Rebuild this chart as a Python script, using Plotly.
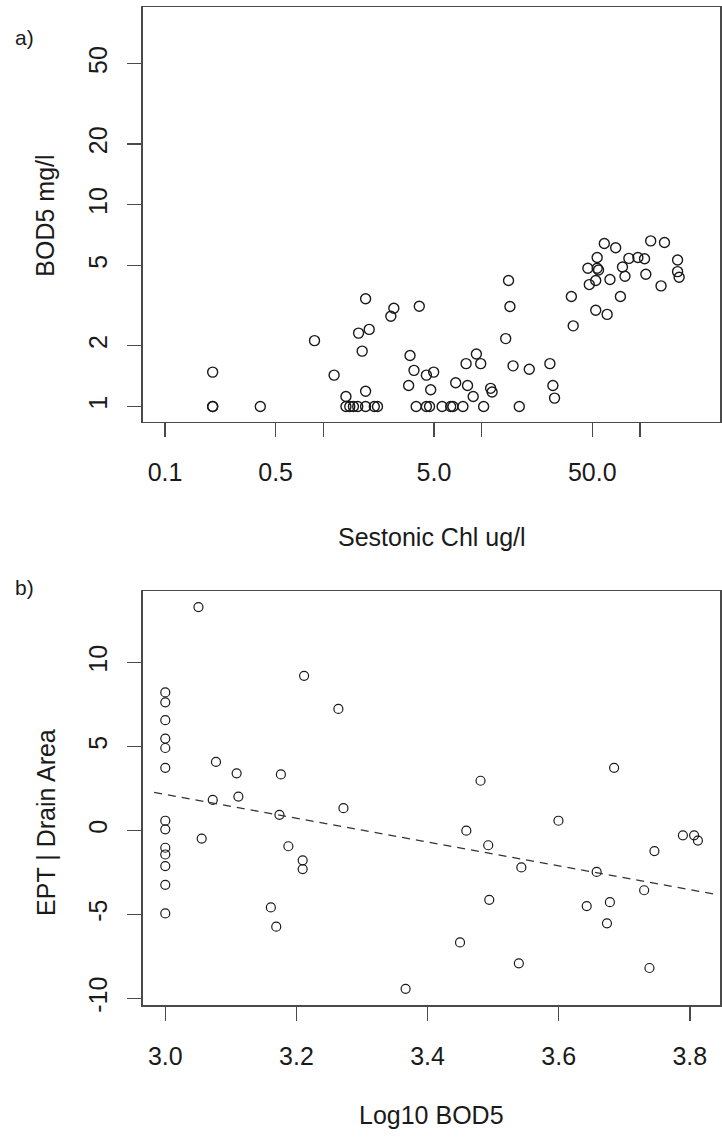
import plotly.graph_objects as go

# ---------------- Panel a data ----------------
chl = [0.20, 0.20, 0.20, 0.40, 0.88, 1.17, 1.39, 1.39, 1.47, 1.55, 1.65, 1.85, 2.10, 2.20,
       1.85, 1.67, 1.95, 1.76, 1.85, 2.67, 2.79, 4.04, 3.53, 3.74, 3.46, 4.48, 4.98, 4.77,
       3.86, 4.48, 4.69, 5.63, 6.38, 6.59, 7.62, 10.3, 17.3, 6.86, 7.98, 8.15, 9.27, 9.87,
       8.85, 11.4, 11.65, 14.8, 15.1, 14.2, 15.8, 20.0, 27.0, 28.2, 28.9, 36.9, 37.9, 46.9,
       47.9, 52.6, 53.7, 53.7, 54.8, 52.6, 59.6, 62.1, 64.7, 70.3, 75.3, 77.6, 80.5, 85.2,
       97.1, 107, 109, 117, 136, 143, 173, 173, 177]
bod5 = [1.48, 1.0, 1.0, 1.0, 2.12, 1.43, 1.12, 1.0, 1.0, 1.0, 1.0, 1.0, 1.0, 1.0,
        3.42, 2.31, 2.41, 1.88, 1.19, 2.80, 3.07, 3.14, 1.79, 1.51, 1.27, 1.43, 1.48, 1.21,
        1.0, 1.0, 1.0, 1.0, 1.0, 1.0, 1.0, 1.0, 1.0, 1.31, 1.63, 1.27, 1.82, 1.63,
        1.12, 1.23, 1.18, 4.21, 3.13, 2.17, 1.59, 1.53, 1.63, 1.27, 1.10, 3.51, 2.51, 4.84,
        4.02, 4.21, 5.48, 4.84, 4.75, 3.00, 6.43, 2.86, 4.26, 6.12, 3.51, 4.91, 4.42, 5.42,
        5.48, 5.40, 4.52, 6.62, 3.96, 6.50, 5.32, 4.66, 4.37]
a_xticks = [0.1, 0.5, 1, 5, 10, 50, 100]
a_xticklabels = ["0.1", "0.5", "", "5.0", "", "50.0", ""]
a_yticks = [1, 2, 5, 10, 20, 50]
a_yticklabels = ["1", "2", "5", "10", "20", "50"]

# ---------------- Panel b data ----------------
log_bod5 = [3.0] * 13 + [
    3.0506, 3.2117, 3.264, 3.0773, 3.1088, 3.1115, 3.0724, 3.0555, 3.1763, 3.1741,
    3.1877, 3.2095, 3.2095, 3.161, 3.1692, 3.2717, 3.3665, 3.4808, 3.4591, 3.4925,
    3.543, 3.4941, 3.4495, 3.5392, 3.5996, 3.6845, 3.6579, 3.6427, 3.6781, 3.6736,
    3.7303, 3.746, 3.7384, 3.7894, 3.8065, 3.8123]
ept_resid = [8.22, 7.63, 6.57, 5.47, 4.91, 3.73, 0.58, 0.07, -1.03, -1.43, -2.12, -3.24, -4.94,
             13.30, 9.21, 7.24, 4.08, 3.40, 2.02, 1.82, -0.48, 3.34, 0.93,
             -0.94, -1.78, -2.30, -4.58, -5.73, 1.33, -9.43, 2.96, -0.01, -0.88,
             -2.20, -4.13, -6.67, -7.91, 0.58, 3.73, -2.47, -4.50, -4.27, -5.53,
             -3.56, -1.23, -8.19, -0.29, -0.29, -0.60]
fit_intercept = 23.42
fit_slope = -7.09
b_xticks = [3.0, 3.2, 3.4, 3.6, 3.8]
b_xticklabels = ["3.0", "3.2", "3.4", "3.6", "3.8"]
b_yticks = [-10, -5, 0, 5, 10]
b_yticklabels = ["-10", "-5", "0", "5", "10"]

# ---------------- layout constants ----------------
W, H = 722, 1137
FONT = "Liberation Sans, Arial, sans-serif"
FS = 25
INK = "#1a1a1a"
AX = "#4a4a4a"

a_xrange = [-1.139, 2.506]   # log10 units
a_yrange = [-0.076, 1.979]
b_xrange = [2.966, 3.846]
b_yrange = [-10.41, 14.24]

def px_x(p):
    return p / W

def px_y(p):
    return (H - p) / H

fig = go.Figure()

fig.add_trace(go.Scatter(
    x=chl, y=bod5, mode="markers", xaxis="x", yaxis="y",
    marker=dict(symbol="circle-open", size=10, color=INK, line=dict(width=1.4)),
    showlegend=False, hoverinfo="skip"))

fig.add_trace(go.Scatter(
    x=log_bod5, y=ept_resid, mode="markers", xaxis="x2", yaxis="y2",
    marker=dict(symbol="circle-open", size=9, color=INK, line=dict(width=1.2)),
    showlegend=False, hoverinfo="skip"))

line_x = [b_xrange[0] + 0.017, b_xrange[1] - 0.01]
line_y = [fit_intercept + fit_slope * v for v in line_x]
fig.add_trace(go.Scatter(
    x=line_x, y=line_y, mode="lines", xaxis="x2", yaxis="y2",
    line=dict(color="#333333", width=1.3, dash="8px,6px"),
    showlegend=False, hoverinfo="skip"))

common = dict(
    showline=True, mirror=True, linecolor=AX, linewidth=1.6,
    ticks="outside", ticklen=14, tickwidth=1.4, tickcolor=AX,
    showgrid=False, zeroline=False,
    tickfont=dict(family=FONT, size=FS, color=INK),
)

xdom = [px_x(143), px_x(720)]

fig.update_layout(
    width=W, height=H,
    margin=dict(l=0, r=0, t=0, b=0),
    paper_bgcolor="white", plot_bgcolor="white",
    xaxis=dict(domain=xdom, anchor="y", type="log", range=a_xrange,
               tickmode="array", tickvals=a_xticks, ticktext=a_xticklabels,
               ticklabelstandoff=14, **common),
    yaxis=dict(domain=[px_y(424.4), px_y(7.3)], anchor="x", type="log", range=a_yrange,
               tickmode="array", tickvals=a_yticks, ticktext=a_yticklabels,
               tickangle=-90, ticklabelstandoff=10, **common),
    xaxis2=dict(domain=xdom, anchor="y2", range=b_xrange,
                tickmode="array", tickvals=b_xticks, ticktext=b_xticklabels,
                ticklabelstandoff=14, **common),
    yaxis2=dict(domain=[px_y(1011.5), px_y(595)], anchor="x2", range=b_yrange,
                tickmode="array", tickvals=b_yticks, ticktext=b_yticklabels,
                tickangle=-90, ticklabelstandoff=10, **common),
)

ann = [
    dict(text="a)", x=px_x(24), y=px_y(38), size=21, angle=0),
    dict(text="b)", x=px_x(24), y=px_y(591), size=21, angle=0),
    dict(text="BOD5 mg/l", x=px_x(45), y=px_y(217), size=FS, angle=-90),
    dict(text="Sestonic Chl ug/l", x=px_x(432), y=px_y(540), size=FS, angle=0),
    dict(text="EPT | Drain Area", x=px_x(46), y=px_y(828), size=FS, angle=-90),
    dict(text="Log10 BOD5", x=px_x(431), y=px_y(1122), size=FS, angle=0),
]
for a in ann:
    fig.add_annotation(text=a["text"], x=a["x"], y=a["y"], xref="paper", yref="paper",
                       xanchor="center", yanchor="middle", showarrow=False,
                       textangle=a["angle"],
                       font=dict(family=FONT, size=a["size"], color=INK))

fig.write_html("out.html",
               config={"displayModeBar": False, "staticPlot": True},
               post_script="document.body.style.margin='0';document.body.style.overflow='hidden';")
